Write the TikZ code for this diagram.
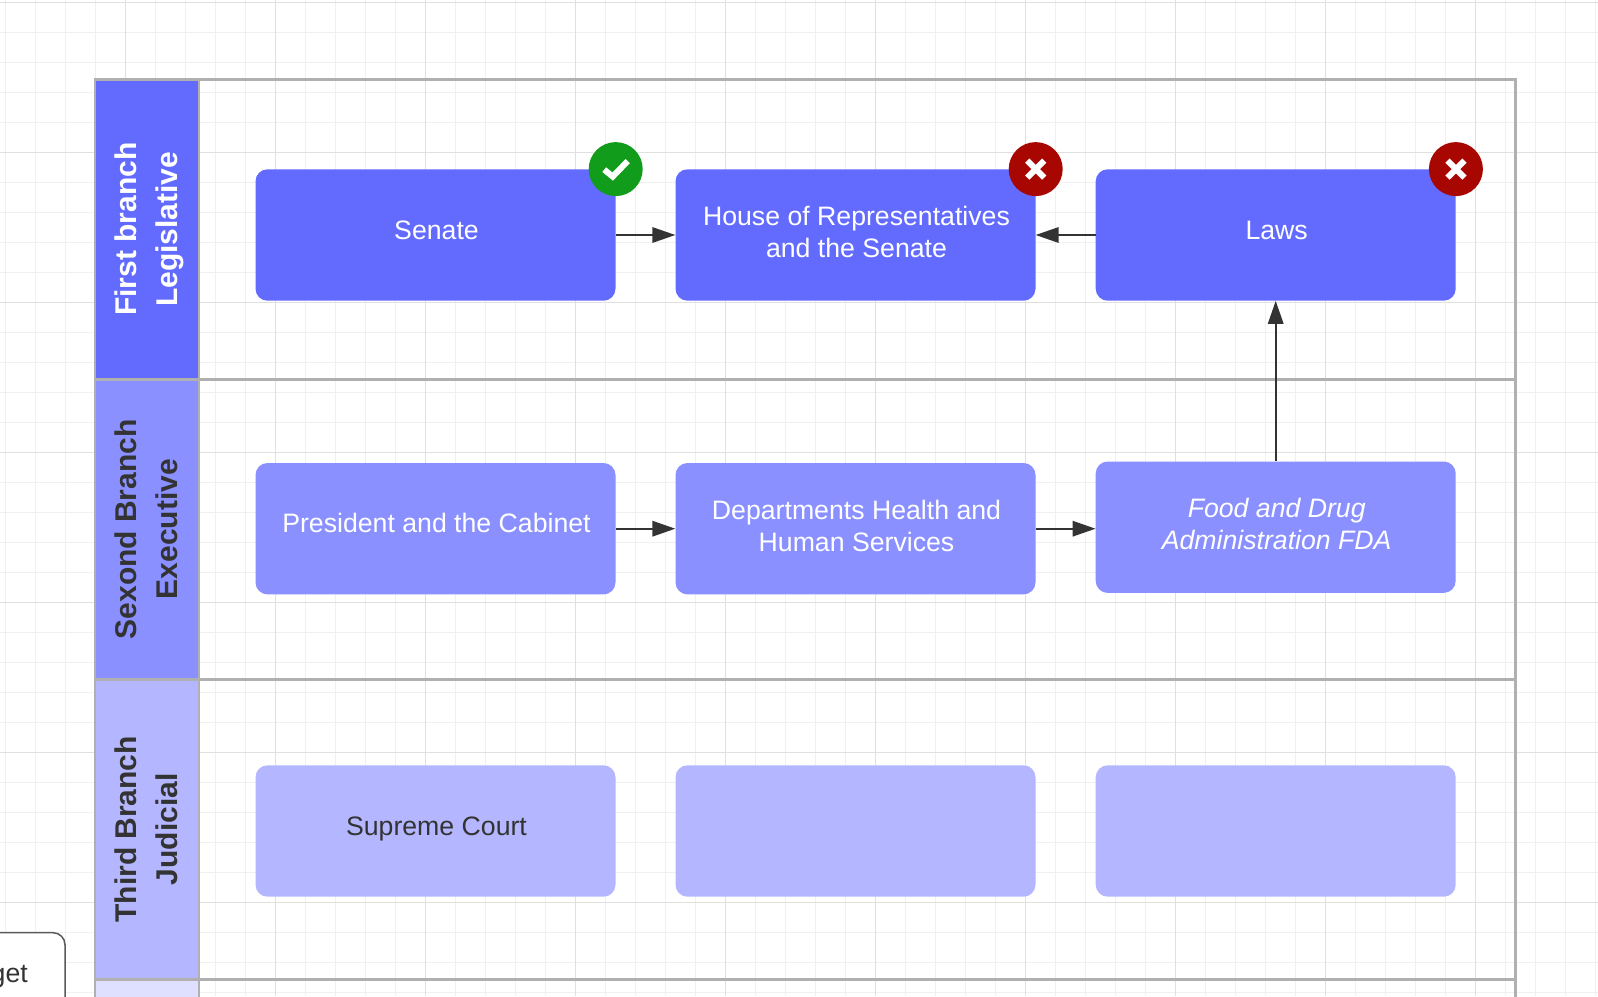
\documentclass[tikz,border=0pt]{standalone}
\usepackage{fontspec}
\setmainfont{Liberation Sans}
\usetikzlibrary{arrows.meta}
\definecolor{gridminor}{HTML}{F0F0F0}
\definecolor{gridmajor}{HTML}{E0E0E0}
\definecolor{framegray}{HTML}{B0B0B0}
\definecolor{inkdark}{HTML}{333333}
\definecolor{firstblue}{HTML}{636BFF}
\definecolor{secondblue}{HTML}{8A90FF}
\definecolor{thirdblue}{HTML}{B4B7FF}
\definecolor{fourthblue}{HTML}{DFE0FF}
\definecolor{okgreen}{HTML}{119C1B}
\definecolor{nored}{HTML}{A80600}
\newcommand{\boxlines}[2][0pt]{\hspace*{2pt}\raisebox{#1}[\height][\depth]{\setlength{\tabcolsep}{0pt}\begin{tabular}{c}#2\end{tabular}}}
\newcommand{\headstrut}{\rule[-12.15pt]{0pt}{43.5pt}}
\tikzset{
  lanehead/.style={rotate=90, draw=framegray, line width=2.7pt, minimum width=300pt, minimum height=104pt,
    inner sep=0pt, align=center, font=\fontsize{30}{39.3}\selectfont\bfseries},
  lanebody/.style={draw=framegray, line width=2.7pt, minimum width=1317pt, minimum height=300pt, inner sep=0pt},
  stepbox/.style={rounded corners=12pt, minimum width=360pt, minimum height=131.4pt, inner sep=0pt,
    font=\fontsize{26.67}{32}\selectfont},
  dotbox/.style={circle, minimum size=54pt, inner sep=0pt},
  markline/.style={white, line width=6pt},
  link/.style={inkdark, line width=1.7pt, -{Triangle[length=23pt, width=15.5pt]}},
}
\begin{document}
\begin{tikzpicture}[x=1pt, y=-1pt]
\useasboundingbox (0,0) rectangle (1598,996);
\clip (0,0) rectangle (1598,996);
\fill[white] (0,0) rectangle (1598,996);
% background grid
\foreach \i in {0,...,53} \draw[gridminor, line width=1pt] ({5.3+30*\i},0) -- ({5.3+30*\i},996);
\foreach \i in {0,...,33} \draw[gridminor, line width=1pt] (0,{2.3+30*\i}) -- (1598,{2.3+30*\i});
\foreach \i in {0,...,9} \draw[gridmajor, line width=1pt] ({125.3+150*\i},0) -- ({125.3+150*\i},996);
\foreach \i in {0,...,6} \draw[gridmajor, line width=1pt] (0,{2.3+150*\i}) -- (1598,{2.3+150*\i});
% lanes
\node[lanebody] (first lane) at (856.9,229.3) {};
\node[lanebody] (second lane) at (856.9,529.3) {};
\node[lanebody] (third lane) at (856.9,829.3) {};
\node[lanebody] (fourth lane) at (856.9,1129.3) {};
\node[lanehead, fill=firstblue, text=white] (first head) at (147,229.3) {\headstrut First branch\\\strut Legislative};
\node[lanehead, fill=secondblue, text=inkdark] (second head) at (147,529.3) {\headstrut Sexond Branch\\\strut Executive};
\node[lanehead, fill=thirdblue, text=inkdark] (third head) at (147,829.3) {\headstrut Third Branch\\\strut Judicial};
\node[lanehead, fill=fourthblue] (fourth head) at (147,1129.3) {};
% first row
\node[stepbox, fill=firstblue, text=white] (senate) at (435.5,235) {\boxlines[2pt]{Senate}};
\node[stepbox, fill=firstblue, text=white] (house) at (855.5,235) {\boxlines{House of Representatives\\and the Senate}};
\node[stepbox, fill=firstblue, text=white] (laws) at (1275.7,235) {\boxlines[2pt]{Laws}};
% second row
\node[stepbox, fill=secondblue, text=white] (president) at (435.5,528.7) {\boxlines[3pt]{President and the Cabinet}};
\node[stepbox, fill=secondblue, text=white] (health) at (855.5,528.7) {\boxlines{Departments Health and\\Human Services}};
\node[stepbox, fill=secondblue, text=white, font=\fontsize{26.67}{32}\selectfont\itshape] (fda) at (1275.7,527.2) {\boxlines{Food and Drug\\Administration FDA}};
% third row
\node[stepbox, fill=thirdblue, text=inkdark] (court) at (435.5,831) {\boxlines[2pt]{Supreme Court}};
\node[stepbox, fill=thirdblue] (blank mid) at (855.5,831) {};
\node[stepbox, fill=thirdblue] (blank right) at (1275.7,831) {};
% links
\draw[link] (senate) -- (house);
\draw[link] (laws) -- (house);
\draw[link] (president) -- (health);
\draw[link] (health.east) -- (health.east -| fda.west);
\draw[link] (fda) -- (laws);
% status dots
\node[dotbox, fill=okgreen] (senate dot) at (senate.north east) {};
\node[dotbox, fill=nored] (house dot) at (house.north east) {};
\node[dotbox, fill=nored] (laws dot) at (laws.north east) {};
\draw[markline] ([shift={(-11.5,0.5)}]senate dot.center) -- ([shift={(-3,7.5)}]senate dot.center) -- ([shift={(12,-8)}]senate dot.center);
\draw[markline] ([shift={(-8.5,-8.5)}]house dot.center) -- ([shift={(8.5,8.5)}]house dot.center);
\draw[markline] ([shift={(-8.5,8.5)}]house dot.center) -- ([shift={(8.5,-8.5)}]house dot.center);
\draw[markline] ([shift={(-8.5,-8.5)}]laws dot.center) -- ([shift={(8.5,8.5)}]laws dot.center);
\draw[markline] ([shift={(-8.5,8.5)}]laws dot.center) -- ([shift={(8.5,-8.5)}]laws dot.center);
% corner tab
\node[draw=black!65, line width=1.5pt, fill=white, rounded corners=12pt, minimum width=130pt, minimum height=100pt, inner sep=0pt] (tab) at (0,982.7) {};
\node[anchor=base east, inner sep=0pt, text=inkdark, font=\fontsize{26.67}{32}\selectfont] (tab text) at (28,982.5) {get};
\end{tikzpicture}
\end{document}
